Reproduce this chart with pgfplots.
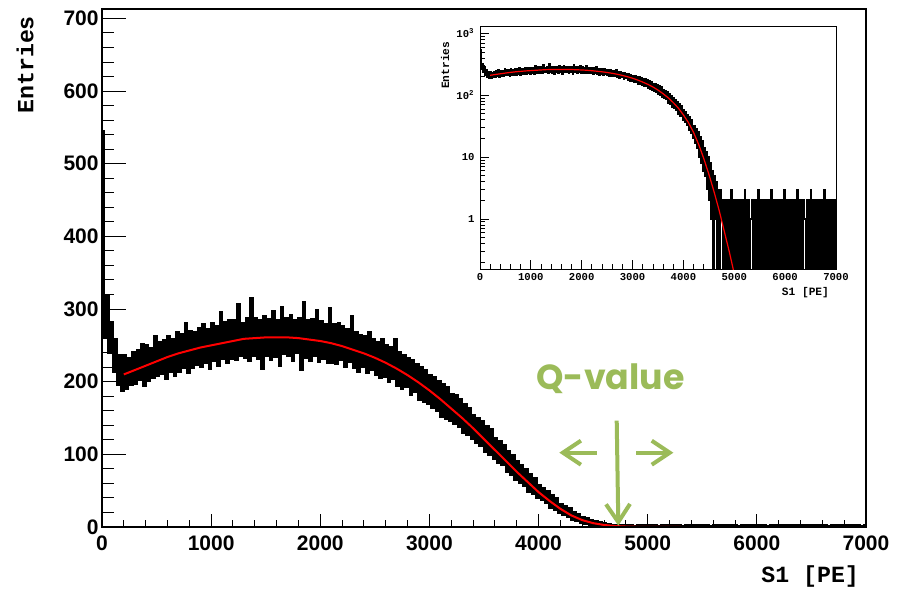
\documentclass[border=0pt]{standalone}
\usepackage{pgfplots}
\pgfplotsset{compat=1.18}
\usepackage{pgfplotstable}
\usepackage{fontspec}
\usetikzlibrary{arrows.meta}
\setmainfont{Liberation Sans}
\newfontfamily\lsans{Liberation Sans}
\newfontfamily\lmono{Liberation Mono}
\newfontfamily\qfont{Poppins}
\definecolor{qgreen}{HTML}{9BBB59}

\pgfplotsset{
  /pgf/number format/assume math mode=true,
  /pgf/number format/1000 sep={},
}

% histogram, 20 PE bins starting at 0 (last row closes the bin ending at 7000)
\pgfplotstableread{
y
545
262
318
240
282
213
258
196
236
188
236
190
232
196
241
197
244
203
252
195
250
201
246
205
262
208
255
211
257
204
262
213
259
208
268
214
266
219
281
212
270
219
268
223
274
220
279
226
272
218
280
229
276
222
295
231
282
226
285
232
284
230
306
235
281
233
287
229
315
236
288
231
285
218
290
236
286
230
297
234
284
222
303
238
288
235
291
229
285
240
287
216
309
233
284
229
286
235
299
228
283
231
279
226
301
226
279
224
281
230
277
221
272
228
290
219
268
213
264
221
262
212
268
216
258
209
255
205
259
207
250
200
247
204
259
194
240
190
236
193
232
182
229
186
224
175
220
172
216
170
209
164
206
160
201
152
197
149
193
146
183
142
181
138
176
130
169
127
163
121
154
116
150
112
146
103
139
100
134
94
122
89
118
85
112
76
104
72
99
65
90
61
85
57
79
49
73
46
67
40
58
37
53
33
49
27
44
24
40
20
32
17
29
14
26
10
21
8
18
6
14
5
12
3
10
2
8
1
6
0
5
1
4
0
3
0
3
1
2
0
2
0
2
1
0
2
0
3
0
2
0
2
0
2
1
0
2
0
2
0
3
0
2
0
2
0
1
2
0
2
0
2
0
3
0
2
0
2
1
0
2
0
2
0
2
0
3
0
2
0
2
1
0
2
0
2
0
2
0
3
0
2
0
2
0
1
2
0
2
0
2
0
3
0
2
0
2
0
2
1
0
2
0
2
0
3
0
2
0
2
0
2
1
0
2
0
2
0
3
0
2
0
2
0
2
0
2
1
0
2
2
}\histdata

\pgfplotstableread{
x y
200 210
300 216
400 222
500 228
600 234
700 239
800 243
900 247
1000 250
1100 253
1200 256
1300 259
1400 260
1500 261
1600 261
1700 261
1800 260
1900 258
2000 256
2100 253
2200 249
2300 244
2400 239
2500 233
2600 226
2700 218
2800 209
2900 199
3000 188
3100 176
3200 163
3300 150
3400 136
3500 121
3600 106
3700 91
3800 76
3900 62
4000 48
4100 36
4200 25
4300 16
4400 9.5
4500 5.3
4600 2.8
4700 1.4
4800 0.65
4900 0.3
5000 0.13
5100 0.05
5200 0.02
5400 0.003
5600 0.0003
5800 0.00003
6000 0.000003
}\fitdata

\begin{document}
\begin{tikzpicture}
\useasboundingbox (-51pt,-31.5pt) rectangle (398pt,263.5pt);

% main axis: data and x ticks
\begin{axis}[
  at={(0,0)}, anchor=south west, scale only axis,
  width=382pt, height=259pt,
  xmin=0, xmax=7000, ymin=0, ymax=713,
  xtick={0,1000,...,7000}, minor x tick num=4, ytick=\empty,
  xtick pos=lower, tick align=inside,
  major tick length=6.5pt, minor tick length=3.5pt,
  axis line style={line width=0.6pt},
  every tick/.style={black, line width=0.5pt},
  xticklabel style={font=\lsans\bfseries\fontsize{10.5}{12}\selectfont, inner xsep=0pt, inner ysep=4pt},
  xlabel={S1 [PE]},
  xlabel style={font=\lmono\bfseries\fontsize{11.6}{13}\selectfont, at={(axis description cs:1,0)}, anchor=east, yshift=-24.5pt},
]
\addplot[const plot, black, line width=1.2pt, line join=miter] table[x expr={\coordindex*20}, y index=0] {\histdata};
\addplot[red, line width=1pt] table[x=x, y=y] {\fitdata};
\node[font=\qfont\bfseries\fontsize{17.4}{19}\selectfont, text=qgreen] at (axis cs:4659,203.7) {Q-value};
\draw[qgreen, line width=2pt, -{Straight Barb[length=9pt,width=12pt]}] (axis cs:4716,146.3) -- (axis cs:4731,1.8);
\draw[qgreen, line width=2pt, -{Straight Barb[length=9pt,width=12pt]}] (axis cs:4533,102.3) -- (axis cs:4190,102.3);
\draw[qgreen, line width=2pt, -{Straight Barb[length=9pt,width=12pt]}] (axis cs:4893,102.3) -- (axis cs:5235,102.3);
\end{axis}

% main axis: y ticks (longer ticks)
\begin{axis}[
  at={(0,0)}, anchor=south west, scale only axis,
  width=382pt, height=259pt,
  xmin=0, xmax=7000, ymin=0, ymax=713,
  xtick=\empty, ytick={0,100,...,700}, minor y tick num=4,
  ytick pos=left, tick align=inside,
  major tick length=12pt, minor tick length=6pt,
  axis line style={line width=0.6pt},
  every tick/.style={black, line width=0.5pt},
  yticklabel style={font=\lsans\bfseries\fontsize{10.5}{12}\selectfont, inner xsep=1.5pt},
  ylabel={Entries},
  ylabel style={font=\lmono\bfseries\fontsize{11.6}{13}\selectfont, at={(axis description cs:-0.1008,1.0)}, anchor=east},
]
\end{axis}

% inset
\begin{axis}[
  at={(189pt,128.85pt)}, anchor=south west, scale only axis,
  width=178pt, height=121.3pt,
  ymode=log, xmin=0, xmax=7000, ymin=0.154, ymax=1280,
  axis background/.style={fill=white},
  xtick={0,1000,...,7000}, minor x tick num=4,
  ytick={1,10,100,1000}, yticklabels={1,10,10\textsuperscript{2},10\textsuperscript{3}},
  minor ytick={0.2,0.3,0.4,0.5,0.6,0.7,0.8,0.9,2,3,4,5,6,7,8,9,20,30,40,50,60,70,80,90,200,300,400,500,600,700,800,900},
  xtick pos=lower, ytick pos=left, tick align=inside,
  major tick length=4.5pt, minor tick length=2.5pt,
  axis line style={line width=0.4pt},
  every tick/.style={black, line width=0.4pt},
  ticklabel style={font=\lmono\bfseries\fontsize{5.3}{6}\selectfont},
  xticklabel style={inner xsep=0pt, inner ysep=2pt},
  yticklabel style={inner xsep=2.5pt},
  xlabel={S1 [PE]},
  xlabel style={font=\lmono\bfseries\fontsize{5.6}{6}\selectfont, at={(axis description cs:1,0)}, anchor=east, yshift=-11.6pt},
  ylabel={Entries},
  ylabel style={font=\lmono\bfseries\fontsize{5.6}{6}\selectfont, at={(axis description cs:-0.0983,0.967)}, anchor=east},
]
\addplot[const plot, black, line width=0.9pt, line join=miter] table[x index=0, y index=0, x expr={\coordindex*20}, y expr={max(\thisrowno{0},0.01)}] {\histdata};
\addplot[red, line width=0.6pt] table[x=x, y=y] {\fitdata};
\end{axis}
\end{tikzpicture}
\end{document}
